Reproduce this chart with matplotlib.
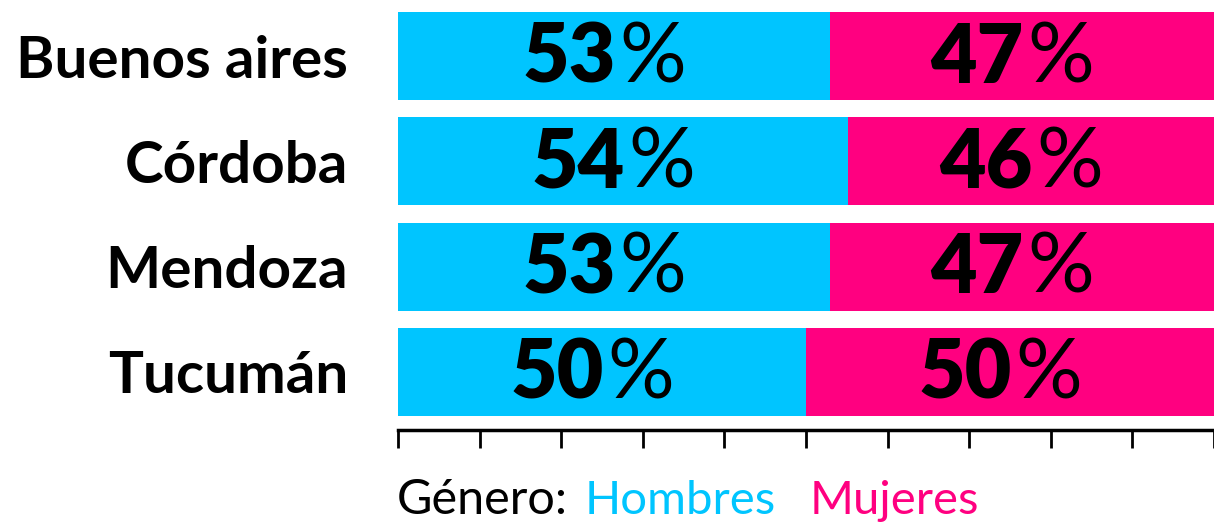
import matplotlib.pyplot as plt

provincias = ["Buenos aires", "Córdoba", "Mendoza", "Tucumán"]
hombres = [52.9, 55.1, 52.9, 50.0]
mujeres = [47.1, 44.9, 47.1, 50.0]
etiquetas_h = ["53", "54", "53", "50"]
etiquetas_m = ["47", "46", "47", "50"]

AZUL = "#00C5FF"
ROSA = "#FF0080"
FUENTE = ["Lato", "DejaVu Sans"]

plt.rcParams["font.family"] = FUENTE

fig = plt.figure(figsize=(12.14, 5.22), dpi=100)
ax = fig.add_axes([398 / 1214, 92 / 522, 816 / 1214, 418 / 522])

y = list(range(len(provincias)))
ax.barh(y, hombres, height=0.836, color=AZUL)
ax.barh(y, mujeres, left=hombres, height=0.836, color=ROSA)

for i in y:
    centros = [hombres[i] / 2, hombres[i] + mujeres[i] / 2]
    for cx, num in zip(centros, [etiquetas_h[i], etiquetas_m[i]]):
        ax.text(cx + 0.2, i + 0.03, num, ha="right", va="center",
                fontsize=58, fontweight="heavy", color="black")
        ax.text(cx + 0.7, i + 0.03, "%", ha="left", va="center",
                fontsize=60, fontweight="normal", color="black")

ax.set_xlim(0, 100)
ax.set_ylim(3.551, -0.418)
ax.set_xticks(range(0, 101, 10))
ax.set_xticklabels([])
ax.set_yticks(y)
ax.set_yticklabels(provincias, fontsize=42, fontweight="bold")
ax.tick_params(axis="y", length=0, pad=36)
ax.tick_params(axis="x", length=13, width=2, color="black")

for lado in ["top", "right", "left"]:
    ax.spines[lado].set_visible(False)
ax.spines["bottom"].set_linewidth(2.5)
ax.spines["bottom"].set_color("black")

t0 = fig.text(397 / 1214, 8 / 522, "Género:", fontsize=35, color="black")
t1 = ax.annotate("Hombres", xy=(1, 0), xycoords=t0, xytext=(12, 0),
                 textcoords="offset points", va="bottom",
                 fontsize=34, color=AZUL)
ax.annotate("Mujeres", xy=(1, 0), xycoords=t1, xytext=(24, 0),
            textcoords="offset points", va="bottom",
            fontsize=34, color=ROSA)

fig.savefig("out.png", dpi=100)
